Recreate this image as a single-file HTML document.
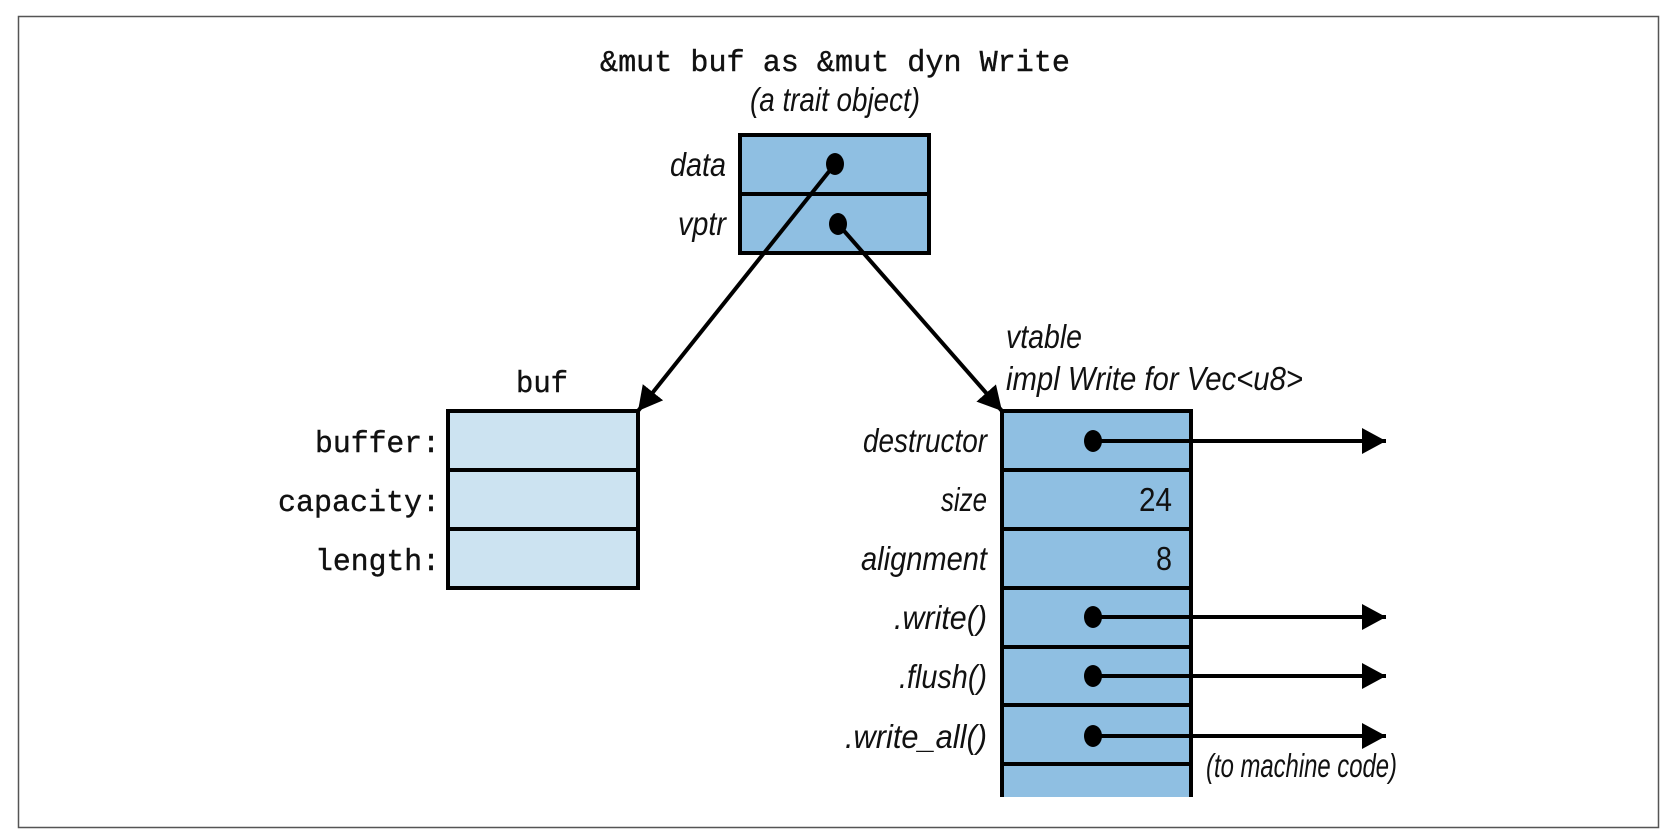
<!DOCTYPE html>
<html><head><meta charset="utf-8"><style>
html,body{margin:0;padding:0;background:#fff}
svg{display:block}
.m{font-family:"Liberation Mono","DejaVu Sans Mono",monospace;font-size:31px;fill:#111;stroke:#111;stroke-width:0.4}
.i{font-family:"Liberation Sans",sans-serif;font-style:italic;font-size:33px;fill:#111}
.n{font-family:"Liberation Sans",sans-serif;font-size:33px;fill:#111}
</style></head><body>
<svg width="1674" height="840" viewBox="0 0 1674 840" xmlns="http://www.w3.org/2000/svg">
<defs>
<marker id="b" markerWidth="24" markerHeight="26" refX="24" refY="13" orient="auto" markerUnits="userSpaceOnUse"><path d="M0,0 L24,13 L0,26z" fill="#000"/></marker></defs>
<rect x="18.5" y="16.5" width="1640" height="811" fill="#fff" stroke="#555" stroke-width="1.5"/>
<text class="m" x="835" y="71" text-anchor="middle" textLength="470" lengthAdjust="spacingAndGlyphs">&amp;mut buf as &amp;mut dyn Write</text>
<text class="i" x="835" y="111" text-anchor="middle" textLength="170" lengthAdjust="spacingAndGlyphs">(a trait object)</text>
<rect x="740" y="135" width="189" height="118" fill="#8fbfe2" stroke="#000" stroke-width="4"/>
<line x1="740" y1="194" x2="929" y2="194" stroke="#000" stroke-width="4"/>
<text class="i" x="726" y="176" text-anchor="end" textLength="56" lengthAdjust="spacingAndGlyphs">data</text>
<text class="i" x="726" y="235" text-anchor="end" textLength="48" lengthAdjust="spacingAndGlyphs">vptr</text>
<text class="m" x="542" y="392" text-anchor="middle" textLength="52" lengthAdjust="spacingAndGlyphs">buf</text>
<rect x="448" y="411" width="190" height="177" fill="#cce3f1" stroke="#000" stroke-width="4"/>
<line x1="448" y1="470" x2="638" y2="470" stroke="#000" stroke-width="4"/>
<line x1="448" y1="529" x2="638" y2="529" stroke="#000" stroke-width="4"/>
<text class="m" x="440" y="452" text-anchor="end" textLength="125" lengthAdjust="spacingAndGlyphs">buffer:</text>
<text class="m" x="440" y="511" text-anchor="end" textLength="162" lengthAdjust="spacingAndGlyphs">capacity:</text>
<text class="m" x="440" y="570" text-anchor="end" textLength="125" lengthAdjust="spacingAndGlyphs">length:</text>
<text class="i" x="1006" y="348" textLength="76" lengthAdjust="spacingAndGlyphs">vtable</text>
<text class="i" x="1006" y="390" textLength="297" lengthAdjust="spacingAndGlyphs">impl Write for Vec&lt;u8&gt;</text>
<rect x="1002" y="411" width="189" height="386" fill="#8fbfe2"/>
<path d="M1002,797 V411 H1191 V797" fill="none" stroke="#000" stroke-width="4"/>
<g stroke="#000" stroke-width="4">
<line x1="1002" y1="470" x2="1191" y2="470"/><line x1="1002" y1="529" x2="1191" y2="529"/>
<line x1="1002" y1="588" x2="1191" y2="588"/><line x1="1002" y1="647" x2="1191" y2="647"/>
<line x1="1002" y1="705" x2="1191" y2="705"/><line x1="1002" y1="764" x2="1191" y2="764"/>
</g>
<text class="i" x="987" y="452" text-anchor="end" textLength="124" lengthAdjust="spacingAndGlyphs">destructor</text>
<text class="i" x="987" y="511" text-anchor="end" textLength="46" lengthAdjust="spacingAndGlyphs">size</text>
<text class="i" x="987" y="570" text-anchor="end" textLength="126" lengthAdjust="spacingAndGlyphs">alignment</text>
<text class="i" x="987" y="629" text-anchor="end" textLength="93" lengthAdjust="spacingAndGlyphs">.write()</text>
<text class="i" x="987" y="688" text-anchor="end" textLength="88" lengthAdjust="spacingAndGlyphs">.flush()</text>
<text class="i" x="987" y="748" text-anchor="end" textLength="142" lengthAdjust="spacingAndGlyphs">.write_all()</text>
<text class="n" x="1172" y="511" text-anchor="end" textLength="33" lengthAdjust="spacingAndGlyphs">24</text>
<text class="n" x="1172" y="570" text-anchor="end" textLength="16" lengthAdjust="spacingAndGlyphs">8</text>
<text class="i" x="1206" y="777" textLength="191" lengthAdjust="spacingAndGlyphs">(to machine code)</text>
<g stroke="#000" stroke-width="4" fill="none">
<line x1="835" y1="164" x2="638" y2="411" marker-end="url(#b)"/>
<line x1="838" y1="224" x2="1002" y2="411" marker-end="url(#b)"/>
<line x1="1093" y1="441" x2="1386" y2="441" marker-end="url(#b)"/>
<line x1="1093" y1="617" x2="1386" y2="617" marker-end="url(#b)"/>
<line x1="1093" y1="676" x2="1386" y2="676" marker-end="url(#b)"/>
<line x1="1093" y1="736" x2="1386" y2="736" marker-end="url(#b)"/>
</g>
<g fill="#000">
<ellipse cx="835" cy="164" rx="9" ry="11"/><ellipse cx="838" cy="224" rx="9" ry="11"/>
<ellipse cx="1093" cy="441" rx="9" ry="11"/><ellipse cx="1093" cy="617" rx="9" ry="11"/>
<ellipse cx="1093" cy="676" rx="9" ry="11"/><ellipse cx="1093" cy="736" rx="9" ry="11"/>
</g>
</svg>
</body></html>
